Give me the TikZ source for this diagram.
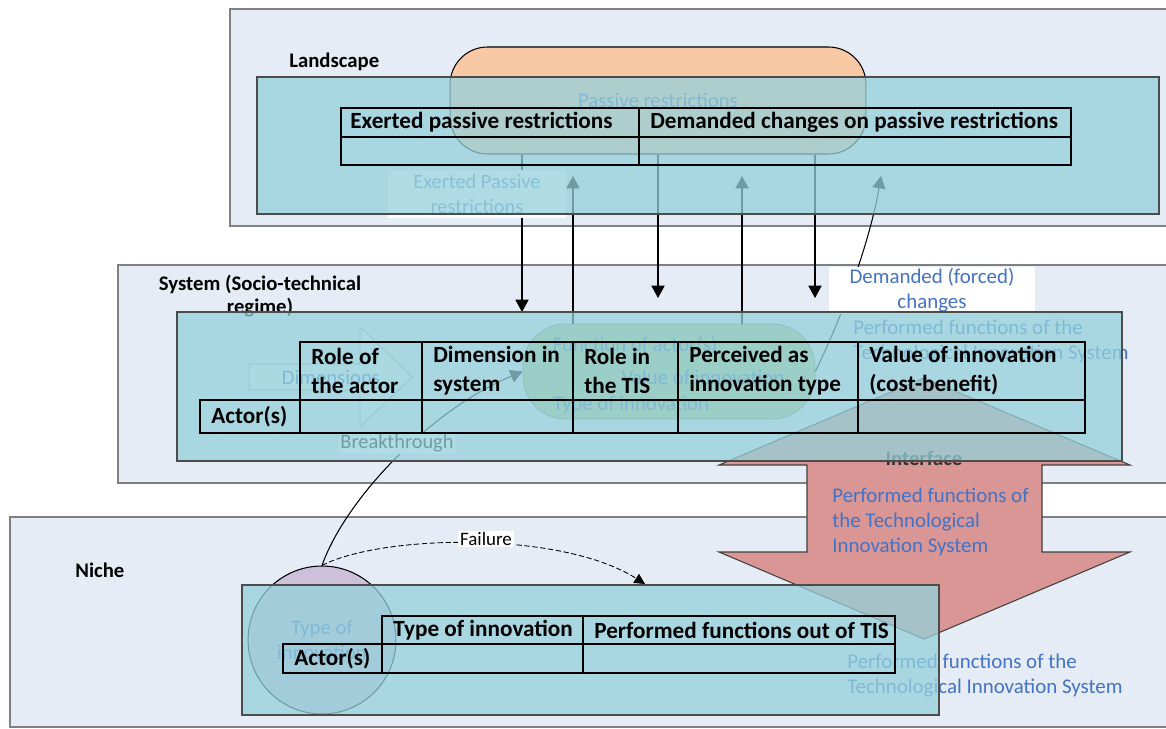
\documentclass[tikz,border=0pt]{standalone}
\usepackage{fontspec}
\setmainfont{Carlito}
\usetikzlibrary{arrows.meta,positioning}

\definecolor{layerfill}{HTML}{E5ECF6}
\definecolor{tealfill}{HTML}{95D1DB}
\definecolor{orangefill}{HTML}{F9C9A5}
\definecolor{greenfill}{HTML}{A9C98A}
\definecolor{purplefill}{HTML}{CCC0DA}
\definecolor{pinkfill}{HTML}{D99694}
\definecolor{bluetext}{HTML}{4472C4}

\tikzset{
  layer/.style={draw=black!50, fill=layerfill, line width=0.6pt},
  tealbox/.style={draw=black!70, fill=tealfill, fill opacity=0.75, line width=0.6pt},
  layertitle/.style={font=\bfseries\fontsize{11.8}{13}\selectfont, align=center, inner sep=0pt},
  cell/.style={draw, line width=0.8pt, outer sep=0pt, inner sep=0pt, anchor=north west},
  ctext/.style={anchor=west, align=left, inner sep=0pt, xshift=0.22cm, font=\bfseries\fontsize{13.2}{16.5}\selectfont},
  faint/.style={text=bluetext, font=\fontsize{11.8}{14.2}\selectfont, align=center, inner sep=0pt},
  bluelbl/.style={text=bluetext, font=\fontsize{11.9}{14.2}\selectfont, align=left, inner sep=0pt},
  whitelbl/.style={fill=white, font=\fontsize{11.6}{14.2}\selectfont, align=center, inner sep=1pt},
  arr/.style={-{Triangle[length=7pt,width=7.5pt]}, line width=0.6pt},
}

\begin{document}
\begin{tikzpicture}[x=0.02cm, y=-0.02cm]
\useasboundingbox (0,0) rectangle (1166,729);
\clip (0,0) rectangle (1166,729);

% Layers
\draw[layer] (230,9) rectangle (1180,226);
\draw[layer] (118,265) rectangle (1180,483);
\draw[layer] (10,517) rectangle (1180,727);
\node[layertitle, anchor=west] (landlbl) at (289,62) {Landscape};
\node[layertitle] (syslbl) at (260,296) {System (Socio-technical\\regime)};
\node[layertitle, anchor=west] (nichelbl) at (75,570) {Niche};

% Shapes under the boxes
\node[draw, line width=0.6pt, fill=orangefill, rounded corners=0.75cm, minimum width=8.32cm, minimum height=2.14cm, faint] (passive) at (658,100.5) {Passive restrictions};
\draw[draw=black!40, fill=layerfill!60!white] (249,364) -- (360,364) -- (360,327) -- (412,377) -- (360,427) -- (360,390) -- (249,390) -- cycle;
\node[faint] (dimlbl) at (331,377) {Dimensions};
\node[draw=black!50, fill=greenfill, rounded corners=0.85cm, minimum width=5.84cm, minimum height=1.9cm] (func) at (669,371.5) {};
\node[faint] (fn1) at (635,345) {Function of actor(s)};
\node[faint] (fn2) at (703,377) {Value of innovation};
\node[faint] (fn3) at (631,405) {Type of innovation};
\node[bluelbl, anchor=west] (perfsys) at (853,341.5) {Performed functions of the\\Technological Innovation System};
\node[draw, line width=0.6pt, fill=purplefill, circle, minimum size=2.96cm, faint] (inno) at (322,640) {Type of\\innovation};

% Interface
\draw[draw=black!75, fill=pinkfill, line width=0.6pt] (924,378) -- (1130,465) -- (1042,465) -- (1042,552) -- (1130,552) -- (924,639) -- (719,552) -- (807,552) -- (807,465) -- (719,465) -- cycle;
\node[layertitle, text=black!80] (iflbl) at (924,458) {Interface};
\node[bluelbl, anchor=west] (ifperf) at (832,522) {Performed functions of\\the Technological\\Innovation System};
\node[bluelbl, anchor=west] (nicheperf) at (847,675.5) {Performed functions of the\\Technological Innovation System};

% Connectors
\coordinate (d1) at (522,312);
\coordinate (d2) at (658,298);
\coordinate (d3) at (815,298);
\coordinate (u1) at (573,176);
\coordinate (u2) at (742,176);
\coordinate (u3) at (881,176);
\coordinate (f1) at (645,584);
\draw[arr] (passive.south -| d1) -- node[whitelbl, text=bluetext!80, pos=0.25, xshift=-0.9cm, minimum width=3.56cm, minimum height=0.96cm] (exlbl) {Exerted Passive\\restrictions} (d1);
\draw[arr] (passive.south -| d2) -- (d2);
\draw[arr] (passive.south -| d3) -- (d3);
\draw[arr] (func.north -| u1) -- (u1);
\draw[arr] (func.north -| u2) -- (u2);
\draw[arr] (func.east) .. controls (850,300) and (872,230) .. (u3);
\node[whitelbl, text=bluetext, font=\fontsize{11.9}{14.2}\selectfont, minimum width=4.12cm, minimum height=0.86cm] (demlbl) at (932,290.5) {Demanded (forced)\\changes};
\draw[arr] (inno.north) .. controls (345,500) and (430,410) .. (func.west);
\node[whitelbl] (brklbl) at (397,443) {Breakthrough};
\draw[-{Triangle[length=6pt,width=6pt]}, line width=0.5pt, dash pattern=on 3pt off 1.5pt] (inno.north) .. controls (380,535) and (560,530) .. (f1);
\node[whitelbl, font=\fontsize{10.8}{12}\selectfont] (faillbl) at (486,539) {Failure};

% Teal boxes
\draw[tealbox] (257,77) rectangle (1159,214);
\draw[tealbox] (177,312) rectangle (1122,461);
\draw[tealbox] (242,585) rectangle (939,715);

% Landscape table
\node[cell, minimum width=5.96cm, minimum height=0.58cm] (lh1) at (341,108) {};
\node[cell, minimum width=8.64cm, minimum height=0.58cm, right=0pt of lh1] (lh2) {};
\node[cell, minimum width=5.96cm, minimum height=0.56cm, below=0pt of lh1] (lr1) {};
\node[cell, minimum width=8.64cm, minimum height=0.56cm, right=0pt of lr1] (lr2) {};
\node[ctext, xshift=-0.04cm] (lh1t) at (lh1.west) {Exerted passive restrictions};
\node[ctext] (lh2t) at (lh2.west) {Demanded changes on passive restrictions};

% System table
\node[cell, minimum width=2.44cm, minimum height=1.16cm] (sh1) at (300,342) {};
\node[cell, minimum width=3.02cm, minimum height=1.16cm, right=0pt of sh1] (sh2) {};
\node[cell, minimum width=2.10cm, minimum height=1.16cm, right=0pt of sh2] (sh3) {};
\node[cell, minimum width=3.60cm, minimum height=1.16cm, right=0pt of sh3] (sh4) {};
\node[cell, minimum width=4.54cm, minimum height=1.16cm, right=0pt of sh4] (sh5) {};
\node[cell, minimum width=2.44cm, minimum height=0.66cm, below=0pt of sh1] (sr1) {};
\node[cell, minimum width=3.02cm, minimum height=0.66cm, right=0pt of sr1] (sr2) {};
\node[cell, minimum width=2.10cm, minimum height=0.66cm, right=0pt of sr2] (sr3) {};
\node[cell, minimum width=3.60cm, minimum height=0.66cm, right=0pt of sr3] (sr4) {};
\node[cell, minimum width=4.54cm, minimum height=0.66cm, right=0pt of sr4] (sr5) {};
\node[cell, minimum width=2.00cm, minimum height=0.66cm, left=0pt of sr1] (sr0) {};
\node[ctext] (sh1t) at (sh1.west) {Role of\\the actor};
\node[ctext] (sh2t) at (sh2.west) {Dimension in\\system};
\node[ctext] (sh3t) at (sh3.west) {Role in\\the TIS};
\node[ctext] (sh4t) at (sh4.west) {Perceived as\\innovation type};
\node[ctext] (sh5t) at (sh5.west) {Value of innovation\\(cost-benefit)};
\node[ctext] (sr0t) at (sr0.west) {Actor(s)};

% Niche table
\node[cell, minimum width=4.02cm, minimum height=0.56cm] (nh1) at (382,616) {};
\node[cell, minimum width=6.24cm, minimum height=0.56cm, right=0pt of nh1] (nh2) {};
\node[cell, minimum width=4.02cm, minimum height=0.58cm, below=0pt of nh1] (nr1) {};
\node[cell, minimum width=6.24cm, minimum height=0.58cm, right=0pt of nr1] (nr2) {};
\node[cell, minimum width=1.98cm, minimum height=0.58cm, left=0pt of nr1] (nr0) {};
\node[ctext] (nh1t) at (nh1.west) {Type of innovation};
\node[ctext] (nh2t) at (nh2.west) {Performed functions out of TIS};
\node[ctext] (nr0t) at (nr0.west) {Actor(s)};
\end{tikzpicture}
\end{document}
